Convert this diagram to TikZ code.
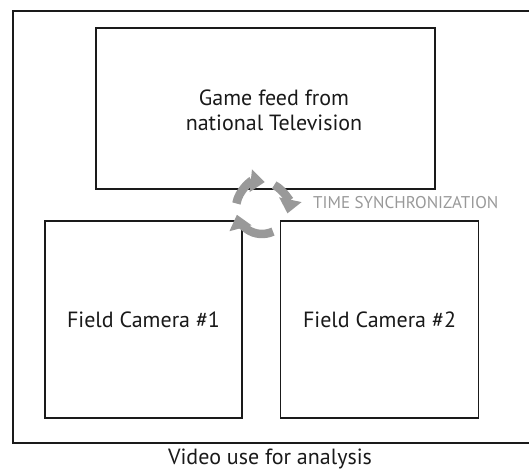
\documentclass[tikz,border=0pt]{standalone}
\usepackage{fontspec}
\setmainfont{PT Sans}
\usetikzlibrary{arrows.meta}
\definecolor{syncgray}{HTML}{999999}
\definecolor{boxline}{HTML}{1A1A1A}
\tikzset{
  boxnode/.style={draw=boxline, line width=1.9pt, inner sep=0pt, rectangle},
  maintext/.style={font=\fontsize{22}{25}\selectfont, text=black!90, align=center, inner sep=0pt},
  syncarrow/.style={draw=syncgray, line width=8.5pt, -{Triangle[width=22pt,length=14pt]}},
}
\begin{document}
\begin{tikzpicture}[x=1pt,y=-1pt]
\useasboundingbox (0,0) rectangle (529,473);
\begin{scope}
\clip (0,0) rectangle (529,473);
\node[boxnode, minimum width=530pt, minimum height=432pt] (frame) at (278,227) {};
\end{scope}
\node[boxnode, minimum width=339pt, minimum height=161pt] (feed) at (265.5,108.5) {};
\node[maintext] (feedtext) at (274,110) {Game feed from\\national Television};
\node[boxnode, minimum width=197pt, minimum height=197pt] (cam1) at (143.5,319.5) {};
\node[maintext] (cam1text) at (cam1.center) {Field Camera \#1};
\node[boxnode, minimum width=198pt, minimum height=197pt] (cam2) at (379.5,319.5) {};
\node[maintext] (cam2text) at (cam2.center) {Field Camera \#2};
\coordinate (sync) at (262,208);
\draw[syncarrow] ([shift={(190:26)}]sync) arc[start angle=190, end angle=276, radius=26];
\draw[syncarrow] ([shift={(298:26)}]sync) arc[start angle=298, end angle=372, radius=26];
\draw[syncarrow] ([shift={(65:26)}]sync) arc[start angle=65, end angle=165, radius=26];
\node[font=\fontsize{17}{20}\selectfont, text=syncgray, anchor=west, inner sep=0pt] (synctext) at (313,203) {TIME SYNCHRONIZATION};
\node[maintext] (caption) at (270,459) {Video use for analysis};
\end{tikzpicture}
\end{document}
